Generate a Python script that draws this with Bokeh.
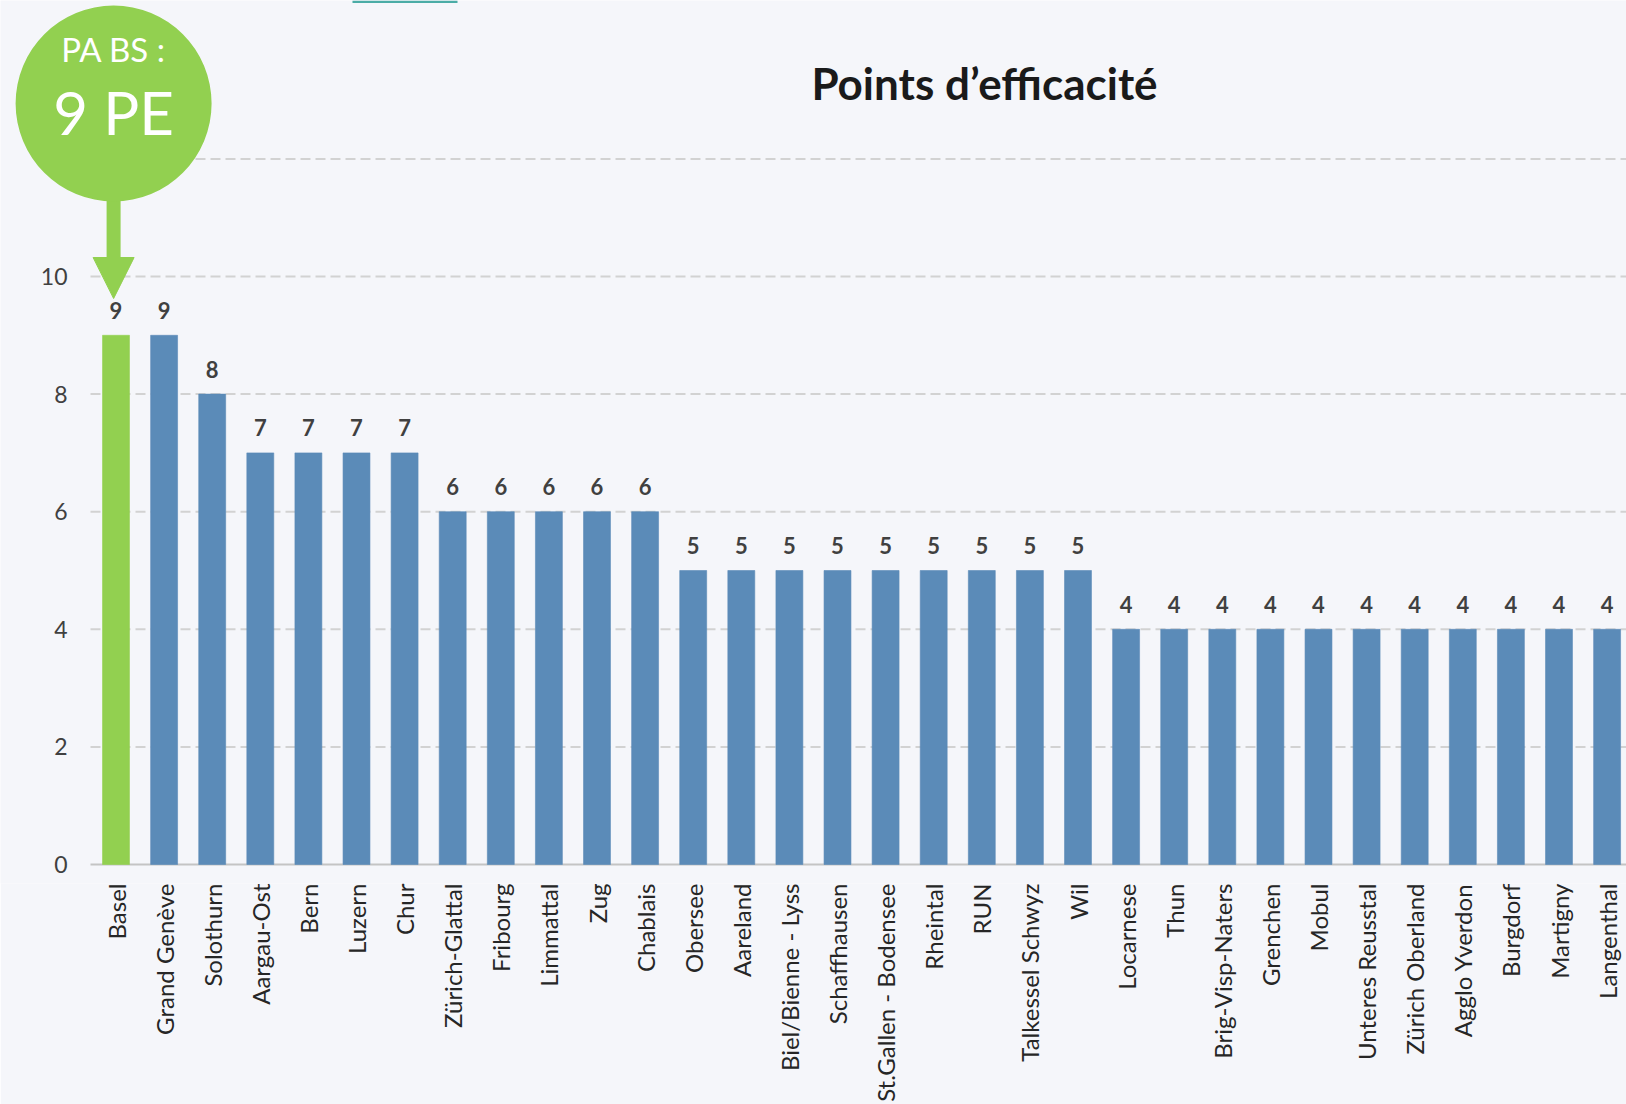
import math
from bokeh.plotting import figure
from bokeh.models import (ColumnDataSource, Range1d, FixedTicker, BoxAnnotation,
                          Label, Arrow, NormalHead)
from bokeh.core.properties import value
from bokeh.embed import file_html
from bokeh.resources import INLINE

# ---------------- data ----------------
regions = ["Basel", "Grand Genève", "Solothurn", "Aargau-Ost", "Bern", "Luzern", "Chur",
           "Zürich-Glattal", "Fribourg", "Limmattal", "Zug", "Chablais", "Obersee",
           "Aareland", "Biel/Bienne - Lyss", "Schaffhausen", "St.Gallen - Bodensee",
           "Rheintal", "RUN", "Talkessel Schwyz", "Wil", "Locarnese", "Thun",
           "Brig-Visp-Naters", "Grenchen", "Mobul", "Unteres Reusstal", "Zürich Oberland",
           "Agglo Yverdon", "Burgdorf", "Martigny", "Langenthal"]
points = [9, 9, 8, 7, 7, 7, 7, 6, 6, 6, 6, 6, 5, 5, 5, 5, 5, 5, 5, 5, 5,
          4, 4, 4, 4, 4, 4, 4, 4, 4, 4, 4]
highlight = "Basel"
y_ticks = [0, 2, 4, 6, 8, 10, 12]
y_tick_labels = ["0", "2", "4", "6", "8", "10"]
title_text = "Points d’efficacité"
callout_top = "PA BS :"
callout_main = "9 PE"

# ---------------- style / layout ----------------
BG = "#F5F6FA"
BLUE = "#5B8BB8"
GREEN = "#92D050"
W = 1626
ZERO_PX = 864        # pixel row of the zero line
FRAME_H = 883        # frame bottom (category labels start here)
STEP = 48.1          # px per category
PPU = 58.8           # px per y unit
X0 = -115.5 / STEP   # first bar centre at px 115.5
X1 = X0 + W / STEP
Y0 = -(FRAME_H - ZERO_PX) / PPU
Y1 = ZERO_PX / PPU


def xd(px):
    return X0 + px / STEP


def yd(py):
    return (ZERO_PX - py) / PPU


idx = list(range(len(regions)))
colors = [GREEN if r == highlight else BLUE for r in regions]
src = ColumnDataSource(dict(x=idx, v=points, c=colors, lab=[str(v) for v in points]))

p = figure(frame_width=W, frame_height=FRAME_H,
           x_range=Range1d(X0, X1), y_range=Range1d(Y0, Y1),
           output_backend="svg", toolbar_location=None,
           min_border_left=0, min_border_right=0, min_border_top=0, min_border_bottom=0,
           background_fill_color=BG, border_fill_color=BG, outline_line_color=None)

# grid lines and baseline (start right of the value axis labels)
grid_y = y_ticks[1:]
p.segment(x0=[xd(90)] * len(grid_y), x1=[X1] * len(grid_y), y0=grid_y, y1=grid_y,
          line_color="#D2D2D2", line_width=2, line_dash="10 5")
p.segment(x0=[xd(90)], x1=[X1], y0=[0], y1=[0], line_color="#C4C4C4", line_width=2)

# bars + value labels
p.vbar(x="x", top="v", bottom=0, width=0.56, source=src, fill_color="c",
       line_color="c", line_alpha=0.6, line_width=1)
p.text(x="x", y="v", text="lab", source=src, text_align="center",
       text_baseline="alphabetic", y_offset=-25,
       text_font=value("Lato"), text_font_style="bold", text_font_size="22px",
       text_color="#404040")

# value axis labels
p.text(x=[xd(67)] * len(y_tick_labels), y=y_ticks[:len(y_tick_labels)], text=y_tick_labels,
       text_align="right", text_baseline="middle", text_font=value("Lato"),
       text_font_size="23px", text_color="#404040")
p.yaxis.visible = False
p.grid.visible = False

# category axis
xa = p.xaxis[0]
xa.ticker = FixedTicker(ticks=idx)
xa.major_label_overrides = {i: r for i, r in zip(idx, regions)}
xa.major_label_orientation = math.pi / 2
xa.major_label_standoff = 0
xa.major_tick_line_color = None
xa.minor_tick_line_color = None
xa.major_tick_out = 0
xa.major_tick_in = 0
xa.axis_line_color = None
xa.major_label_text_font = "Lato"
xa.major_label_text_font_size = "24px"
xa.major_label_text_color = "#262626"

# title
p.add_layout(Label(x=xd(984), y=yd(82), text=title_text, text_align="center",
                   text_baseline="alphabetic", text_font="Lato", text_font_style="bold",
                   text_font_size="44px", text_color="#1A1A1A"))

# small teal accent at top
p.add_layout(BoxAnnotation(left=xd(352), right=xd(457), top=Y1, bottom=Y1 - 2.5 / PPU,
                           fill_color="#4BACA6", fill_alpha=1, line_color=None))

# callout circle + arrow pointing at the highlighted bar
hi = regions.index(highlight)
cx = hi - 0.05
R = 98
p.add_layout(Arrow(x_start=cx, y_start=yd(190), x_end=cx, y_end=yd(298),
                   line_color=GREEN, line_width=14,
                   end=NormalHead(size=41, fill_color=GREEN, line_color=GREEN, line_width=1)))
p.add_layout(BoxAnnotation(left=cx - R / STEP, right=cx + R / STEP,
                           top=yd(103) + R / PPU, bottom=yd(103) - R / PPU,
                           fill_color=GREEN, fill_alpha=1, line_color=None, border_radius=R))
p.add_layout(Label(x=cx, y=yd(48), text=callout_top, text_align="center",
                   text_baseline="alphabetic", text_font="Lato", text_font_size="33px",
                   text_color="white"))
p.add_layout(Label(x=cx, y=yd(111), text=callout_main, text_align="center",
                   text_baseline="alphabetic", text_font="Lato", text_font_size="60px",
                   text_color="white"))

open("out.html", "w").write(file_html(p, INLINE))
